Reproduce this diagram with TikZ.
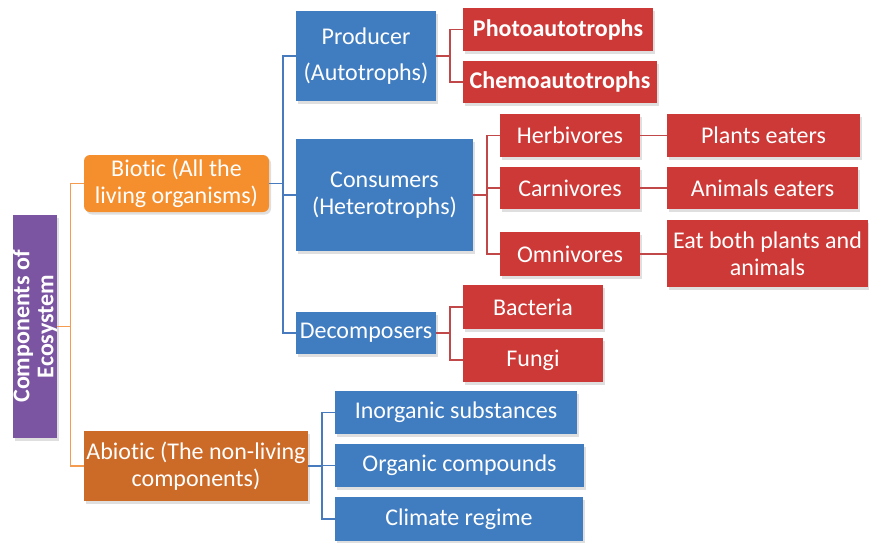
\documentclass[tikz,border=0pt]{standalone}
\usepackage{fontspec}
\setmainfont{Carlito}[Ligatures=NoCommon]
\usetikzlibrary{shadows}
\definecolor{cpurple}{RGB}{123,84,162}
\definecolor{corange}{RGB}{245,143,46}
\definecolor{cdark}{RGB}{204,106,40}
\definecolor{cblue}{RGB}{64,124,192}
\definecolor{cred}{RGB}{205,57,55}
\definecolor{lorange}{RGB}{245,155,80}
\definecolor{lblue}{RGB}{72,122,190}
\definecolor{lred}{RGB}{192,72,72}
\tikzset{
  box/.style={draw=none, text=white, align=center, inner sep=0pt,
    font=\fontsize{24}{27}\selectfont,
    drop shadow={opacity=0.25, shadow xshift=2pt, shadow yshift=-2.5pt}},
  bluebox/.style={box, fill=cblue},
  redbox/.style={box, fill=cred},
  boldred/.style={redbox, font=\fontsize{24}{27}\selectfont\bfseries},
  conn/.style={line width=1.5pt},
}
\newcommand{\bx}[7]{% style, name, x1, y1, x2, y2, text
  \node[#1, minimum width={(#5)-(#3)}, minimum height={(#6)-(#4)}] (#2) at ({((#3)+(#5))/2},{((#4)+(#6))/2}) {#7};}
\begin{document}
\begin{tikzpicture}[x=1pt,y=-1pt]
\useasboundingbox (0,0) rectangle (869,542);
% purple root
\node[box, fill=cpurple, rotate=90, minimum width=223pt, minimum height=44pt,
  font=\fontsize{24}{24}\selectfont\bfseries] (root) at (35,326.5) {Components of\\Ecosystem};
% level 1
\node[box, fill=corange, rounded corners=6pt, minimum width=185pt, minimum height=57pt] (bio) at (176.5,183.5) {Biotic (All the\\living organisms)};
\bx{box, fill=cdark}{abio}{84}{431}{308}{501}{Abiotic (The non-living\\components)}
% level 2
\bx{bluebox}{prod}{296}{11}{436}{101}{Producer\\[9pt](Autotrophs)}
\bx{bluebox}{cons}{296}{139}{473}{251}{Consumers\\(Heterotrophs)}
\bx{bluebox}{deco}{296}{312}{436}{354}{Decomposers}
\bx{bluebox}{inorg}{335}{391}{577}{434}{Inorganic substances}
\bx{bluebox}{org}{335}{444}{584}{487}{Organic compounds}
\bx{bluebox}{clim}{335}{497}{583}{541}{Climate regime}
% level 3
\bx{boldred}{photo}{463}{8}{653}{51}{Photoautotrophs}
\bx{boldred}{chemo}{463}{61}{657}{103}{Chemoautotrophs}
\bx{redbox}{herb}{500}{114}{640}{157}{Herbivores}
\bx{redbox}{carn}{500}{167}{640}{209}{Carnivores}
\bx{redbox}{omni}{500}{232}{640}{276}{Omnivores}
\bx{redbox}{bact}{463}{285}{603}{329}{Bacteria}
\bx{redbox}{fungi}{463}{338}{603}{382}{Fungi}
% level 4
\bx{redbox}{plants}{667}{114}{860}{157}{Plants eaters}
\bx{redbox}{anim}{667}{167}{858}{209}{Animals eaters}
\bx{redbox}{both}{667}{220}{868}{287}{Eat both plants and\\animals}
% connectors
\begin{scope}[conn, draw=lorange]
\draw (root.south) -- ++(13,0) |- (bio.west);
\draw (root.south) -- ++(13,0) |- (abio.west);
\end{scope}
\begin{scope}[conn, draw=lblue]
\draw (bio.east) -- ++(14,0) |- (prod.west);
\draw (bio.east) -- ++(14,0) |- (cons.west);
\draw (bio.east) -- ++(14,0) |- (deco.west);
\draw (abio.east) -- ++(14,0) |- (inorg.west);
\draw (abio.east) -- ++(14,0) |- (org.west);
\draw (abio.east) -- ++(14,0) |- (clim.west);
\end{scope}
\begin{scope}[conn, draw=lred]
\draw (prod.east) -- ++(14,0) |- (photo.west);
\draw (prod.east) -- ++(14,0) |- (chemo.west);
\draw (cons.east) -- ++(14,0) |- (herb.west);
\draw (cons.east) -- ++(14,0) |- (carn.west);
\draw (cons.east) -- ++(14,0) |- (omni.west);
\draw (deco.east) -- ++(14,0) |- (bact.west);
\draw (deco.east) -- ++(14,0) |- (fungi.west);
\draw (herb.east) -- (plants.west);
\draw (carn.east) -- (anim.west);
\draw (omni.east) -- (omni.east -| both.west);
\end{scope}
\end{tikzpicture}
\end{document}
